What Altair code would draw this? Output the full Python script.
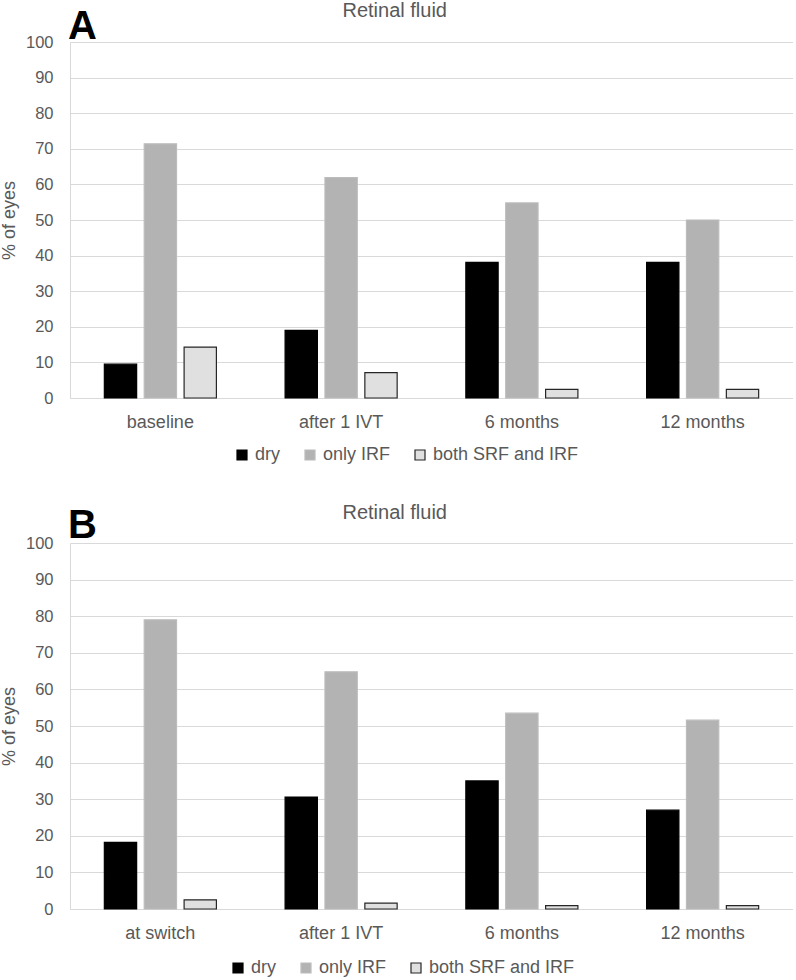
import altair as alt
import pandas as pd

# ---------------- data ----------------
series = ["dry", "only IRF", "both SRF and IRF"]

cats_a = ["baseline", "after 1 IVT", "6 months", "12 months"]
dry_a = [9.5, 19.0, 38.1, 38.1]
irf_a = [71.4, 61.9, 54.8, 50.0]
both_a = [14.3, 7.1, 2.4, 2.4]

cats_b = ["at switch", "after 1 IVT", "6 months", "12 months"]
dry_b = [18.2, 30.6, 35.0, 27.0]
irf_b = [79.0, 64.8, 53.5, 51.6]
both_b = [2.5, 1.6, 0.9, 0.9]

panel_title = "Retinal fluid"
y_title = "% of eyes"
y_ticks = [0, 10, 20, 30, 40, 50, 60, 70, 80, 90, 100]

# ---------------- style ----------------
FONT = "Liberation Sans"
GRAY = "#595959"
GRID = "#d9d9d9"
fills = ["#000000", "#b3b3b3", "#e0e0e0"]
strokes = ["#000000", "#bcbcbc", "#262626"]


def long_df(cats, dry, irf, both):
    rows = []
    for i, c in enumerate(cats):
        for s, vals in zip(series, [dry, irf, both]):
            rows.append({"cat": c, "series": s, "value": vals[i]})
    return pd.DataFrame(rows)


def panel(df, cats, letter, height, letter_y, title_y, legend_x, legend_y):
    legend = alt.Legend(
        title=None,
        orient="none",
        legendX=legend_x,
        legendY=legend_y,
        direction="horizontal",
        symbolType="square",
        symbolSize=100,
        symbolStrokeWidth=1.2,
        labelFontSize=18,
        labelColor=GRAY,
        labelFont=FONT,
        labelOffset=4,
        columnPadding=20,
        padding=0,
    )
    bars = alt.Chart(df).mark_bar(strokeWidth=1.2).encode(
        x=alt.X(
            "cat:N",
            sort=cats,
            title=None,
            scale=alt.Scale(paddingInner=0.38, paddingOuter=0.19),
            axis=alt.Axis(
                labelAngle=0,
                labelFontSize=18,
                labelColor=GRAY,
                labelFont=FONT,
                labelPadding=15,
                ticks=False,
                tickSize=0,
                domainColor=GRID,
                grid=False,
            ),
        ),
        xOffset=alt.XOffset(
            "series:N", sort=series, scale=alt.Scale(paddingInner=0.19, paddingOuter=0)
        ),
        y=alt.Y(
            "value:Q",
            scale=alt.Scale(domain=[0, 100]),
            title=y_title,
            axis=alt.Axis(
                values=y_ticks,
                ticks=False,
                tickSize=0,
                labelFontSize=16.5,
                labelColor=GRAY,
                labelFont=FONT,
                labelPadding=17,
                domainColor=GRID,
                gridColor=GRID,
                gridWidth=1,
                titleFontSize=18,
                titleColor=GRAY,
                titleFont=FONT,
                titleFontWeight="normal",
                titlePadding=7,
            ),
        ),
        fill=alt.Fill(
            "series:N", sort=series, scale=alt.Scale(domain=series, range=fills), legend=legend
        ),
        stroke=alt.Stroke(
            "series:N", sort=series, scale=alt.Scale(domain=series, range=strokes), legend=legend
        ),
    )
    title_txt = alt.Chart(pd.DataFrame({"t": [panel_title]})).mark_text(
        font=FONT, fontSize=20, color=GRAY, align="center", baseline="alphabetic"
    ).encode(text="t:N", x=alt.value(324.7), y=alt.value(title_y))
    letter_txt = alt.Chart(pd.DataFrame({"t": [letter]})).mark_text(
        font=FONT, fontSize=40, fontWeight="bold", color="#000000", align="left", baseline="alphabetic"
    ).encode(text="t:N", x=alt.value(-2), y=alt.value(letter_y))
    return alt.layer(bars, title_txt, letter_txt).properties(width=723, height=height)


chart_a = panel(long_df(cats_a, dry_a, irf_a, both_a), cats_a, "A", 356, -3, -24.7, 163, 404)
chart_b = panel(long_df(cats_b, dry_b, irf_b, both_b), cats_b, "B", 366, -5, -24.4, 159, 416)

chart = (
    alt.vconcat(chart_a, chart_b, spacing=38)
    .resolve_scale(fill="independent", stroke="independent", x="independent", y="independent")
    .resolve_legend(fill="independent", stroke="independent")
    .properties(padding={"left": 0, "top": 1, "right": 0, "bottom": 0})
    .configure(font=FONT)
    .configure_view(stroke=None)
)

chart.save("out.html", embed_options={"renderer": "svg", "actions": False})
